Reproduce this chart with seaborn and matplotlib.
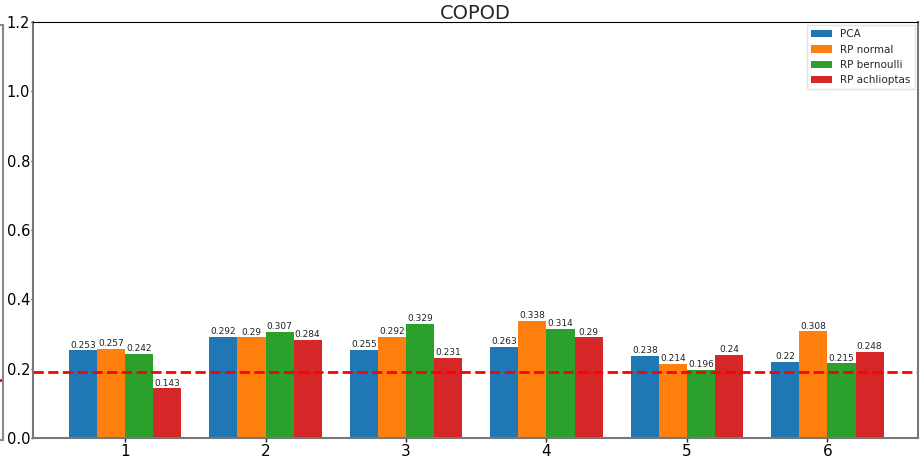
import pandas as pd
import matplotlib
matplotlib.use("Agg")
import matplotlib.pyplot as plt
import seaborn as sns

# data
groups = ["1", "2", "3", "4", "5", "6"]
methods = ["PCA", "RP normal", "RP bernoulli", "RP achlioptas"]
pca = [0.253, 0.292, 0.255, 0.263, 0.238, 0.22]
rp_normal = [0.257, 0.29, 0.292, 0.338, 0.214, 0.308]
rp_bernoulli = [0.242, 0.307, 0.329, 0.314, 0.196, 0.215]
rp_achlioptas = [0.143, 0.284, 0.231, 0.29, 0.24, 0.248]
threshold = 0.19
prev_threshold = 0.173  # from the neighbouring subplot, only its edge shows

sns.set_style("white")
plt.rcParams['font.family'] = ['DejaVu Sans']

rows = []
for m, vals in zip(methods, [pca, rp_normal, rp_bernoulli, rp_achlioptas]):
    for g, v in zip(groups, vals):
        rows.append({"group": g, "method": m, "score": v})
df = pd.DataFrame(rows)

fig = plt.figure(figsize=(9.23, 4.62), dpi=100)

# sliver of the previous subplot at the left edge
ax0 = fig.add_axes([-0.5, 0.048, 0.503, 0.898])
ax0.set_ylim(0, 1.2)
ax0.axhline(prev_threshold, color="red", linestyle="-", linewidth=2)
ax0.set_xticks([])
ax0.set_yticks([])
for s in ax0.spines.values():
    s.set_color("#888888")
    s.set_linewidth(1.5)

ax = fig.add_axes([0.0358, 0.052, 0.9588, 0.9])
palette = ["#1f77b4", "#ff7f0e", "#2ca02c", "#d62728"]
sns.barplot(data=df, x="group", y="score", hue="method", hue_order=methods,
            palette=palette, saturation=1, width=0.8, linewidth=0,
            edgecolor="none", ax=ax)

for cont, vals in zip(ax.containers, [pca, rp_normal, rp_bernoulli, rp_achlioptas]):
    ax.bar_label(cont, labels=[str(v) for v in vals], fontsize=6.5, padding=0.5,
                 color="#222222")

ax.axhline(threshold, color="red", linestyle="--", linewidth=2)

ax.set_ylim(0, 1.2)
ax.set_xlim(-0.655, 5.645)
ax.set_yticks([0.0, 0.2, 0.4, 0.6, 0.8, 1.0, 1.2])
ax.tick_params(axis="y", labelsize=10.5, length=1.5, width=1, pad=0.5,
               left=True, labelcolor="black")
ax.tick_params(axis="x", labelsize=11, length=3, width=1, pad=1,
               bottom=True, labelcolor="black")
ax.set_xlabel("")
ax.set_ylabel("")
ax.set_title("COPOD", fontsize=14, pad=2)

for side in ["left", "bottom", "right"]:
    ax.spines[side].set_color("#777777")
    ax.spines[side].set_linewidth(1.5)
ax.spines["top"].set_color("black")

ax.legend(loc="upper right", fontsize=7.5, frameon=True, fancybox=False,
          edgecolor="#dddddd", borderaxespad=0.3)

fig.savefig("out.png", dpi=100)
